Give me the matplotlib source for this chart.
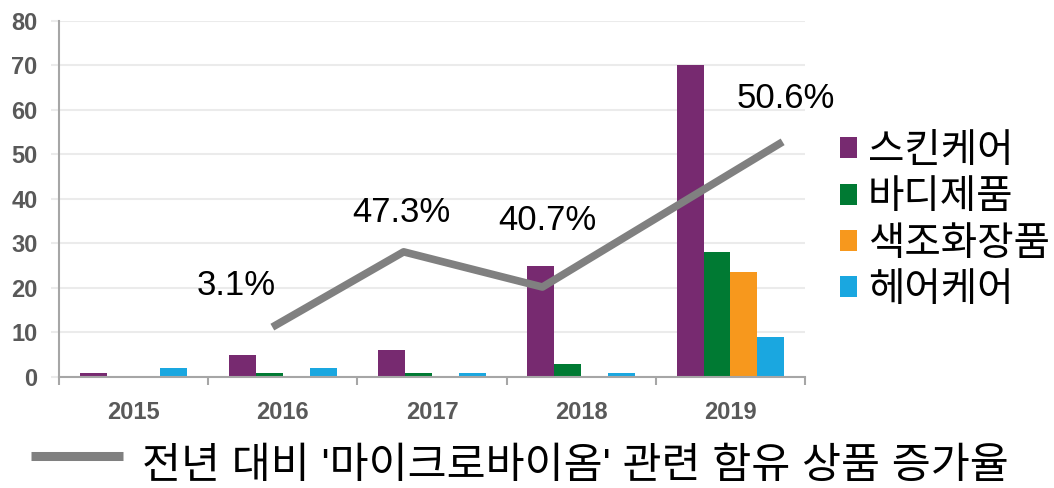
import matplotlib
matplotlib.use('Agg')
import matplotlib.pyplot as plt
import numpy as np
from matplotlib.lines import Line2D

plt.rcParams['font.family'] = ['Liberation Sans', 'Noto Sans CJK KR']

#=================
# DATA
#=================
years = ['2015', '2016', '2017', '2018', '2019']
series_names = ['스킨케어', '바디제품', '색조화장품', '헤어케어']
skincare = [1, 5, 6, 25, 70]
body = [0, 1, 1, 3, 28]
makeup = [0, 0, 0, 0, 23.5]
hair = [2, 2, 1, 1, 9]
series_colors = ['#772A70', '#007A33', '#F7981D', '#1AA7E0']

# growth line as drawn in the source (its points sit a bit left of the year centres)
growth_x = [0.93, 1.81, 2.74, 4.35]
growth_y = [11.2, 28.1, 20.2, 52.8]
growth_labels = ['3.1%', '47.3%', '40.7%', '50.6%']
line_name = "전년 대비 '마이크로바이옴' 관련 함유 상품 증가율"

#=================
# PLOT
#=================
W, H = 1054, 488
fig = plt.figure(figsize=(W / 100, H / 100), dpi=100)
ax = fig.add_axes([59 / W, 1 - 377 / H, (805 - 59) / W, (377 - 20.7) / H])

x = np.arange(len(years))
bw = 0.18
handles = []
for i, (vals, col) in enumerate(zip([skincare, body, makeup, hair], series_colors)):
    b = ax.bar(x + (i - 1.5) * bw, vals, bw, color=col, zorder=2)
    handles.append(b)

line, = ax.plot(growth_x, growth_y, color='#808080', lw=5.5, zorder=3,
                solid_capstyle='butt')

# label offsets in points
offsets = [(-26, 30), (-1.5, 28), (3.6, 48), (2, 31)]
for gx, gy, lab, off in zip(growth_x, growth_y, growth_labels, offsets):
    ax.annotate(lab, (gx, gy), xytext=off, textcoords='offset points',
                ha='center', va='center', fontsize=25, color='black')

ax.set_xlim(-0.5, 4.5)
ax.set_ylim(0, 80)
ax.set_yticks(range(0, 81, 10))
ax.set_xticks(x)
ax.set_xticklabels(years)
ax.set_xticks(np.arange(-0.5, 5, 1), minor=True)
ax.tick_params(axis='x', which='major', length=0, pad=17, labelsize=17,
               labelcolor='#595959')
ax.tick_params(axis='x', which='minor', length=6, width=1.5, color='#A6A6A6')
ax.tick_params(axis='y', length=5.5, width=1.5, color='#EBEBEB', pad=10,
               labelsize=17, labelcolor='#595959')
for t in ax.get_xticklabels() + ax.get_yticklabels():
    t.set_fontweight('bold')

ax.yaxis.grid(True, color='#EBEBEB', lw=1.5)
ax.set_axisbelow(True)
for s in ['top', 'right']:
    ax.spines[s].set_visible(False)
for s in ['left', 'bottom']:
    ax.spines[s].set_color('#A6A6A6')
    ax.spines[s].set_linewidth(1.5)

fig.legend(handles, series_names, loc='upper left',
           bbox_to_anchor=(840 / W, 1 - 132 / H), frameon=False,
           fontsize=28.5, handlelength=0.43, handleheight=0.43,
           handletextpad=0.28, labelspacing=0.21, borderpad=0,
           borderaxespad=0)

# line key under the chart
fig.add_artist(Line2D([31 / W, 123 / W], [1 - 456 / H] * 2, color='#808080',
                      lw=6.5, solid_capstyle='butt'))
fig.text(142 / W, 1 - 478 / H, line_name, fontsize=30.5, va='baseline',
         ha='left', color='black')

fig.savefig('out.png', dpi=100)
